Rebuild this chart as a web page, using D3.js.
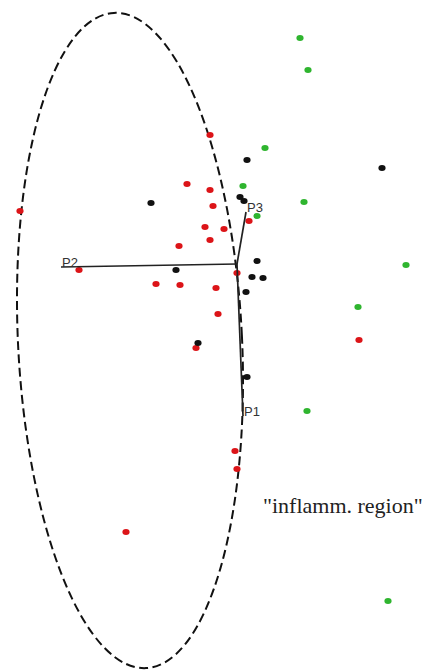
<!DOCTYPE html>
<html>
<head>
<meta charset="utf-8">
<script src="https://cdn.jsdelivr.net/npm/d3@7/dist/d3.min.js"></script>
<style>
  html, body { margin: 0; padding: 0; background: #fff; }
  svg { display: block; }
</style>
</head>
<body>
<svg id="chart" width="430" height="672"></svg>
<script>
// Sample scores on the first two components, grouped by class
const redScores = [
  [-0.27, 1.29], [-0.50, 0.80], [-0.27, 0.74], [-0.24, 0.58], [-2.17, 0.53],
  [0.12, 0.43], [-0.32, 0.37], [-0.13, 0.35], [-0.27, 0.24], [-0.58, 0.18],
  [-1.58, -0.06], [0.00, -0.09], [-0.81, -0.20], [-0.57, -0.21], [-0.21, -0.24],
  [-0.19, -0.50], [-0.41, -0.84], [1.22, -0.76], [-0.02, -1.87], [0.00, -2.05],
  [-1.11, -2.68]
];
const greenScores = [
  [0.63, 2.26], [0.71, 1.94], [0.28, 1.16], [0.06, 0.78], [0.67, 0.62],
  [0.20, 0.48], [1.69, -0.01], [1.21, -0.43], [0.70, -1.47], [1.51, -3.37]
];
const blackScores = [
  [0.10, 1.04], [1.45, 0.96], [-0.86, 0.61], [0.03, 0.67], [0.07, 0.63],
  [0.20, 0.03], [-0.61, -0.06], [0.15, -0.13], [0.26, -0.14], [0.09, -0.28],
  [-0.39, -0.79], [0.10, -1.13]
];

// Variable loadings
const loadingNames = ["P1", "P2", "P3"];
const loadingX = [0.06, -1.76, 0.09];
const loadingY = [-1.52, -0.03, 0.52];

// Region ellipse: centre, semi-axes and tilt (degrees)
const regionCentre = [-1.07, -0.765];
const regionAxes = [1.12, 3.28];
const regionTilt = -2.8;
const regionLabel = "\"inflamm. region\"";
const regionLabelPos = [0.26, -2.49];

const width = 430, height = 672;
const svg = d3.select("#chart");

const x = d3.scaleLinear().domain([-2.37, 1.93]).range([0, width]);
const y = d3.scaleLinear().domain([2.64, -4.08]).range([0, height]);

// dashed ellipse around the region
svg.append("ellipse")
  .attr("cx", 0).attr("cy", 0)
  .attr("rx", x(regionAxes[0]) - x(0))
  .attr("ry", y(0) - y(regionAxes[1]))
  .attr("transform", `translate(${x(regionCentre[0])},${y(regionCentre[1])}) rotate(${regionTilt})`)
  .attr("fill", "none")
  .attr("stroke", "#111")
  .attr("stroke-width", 2)
  .attr("stroke-dasharray", "9,4.5");

// points
function drawPoints(data, colour) {
  svg.append("g")
    .selectAll("ellipse")
    .data(data)
    .join("ellipse")
    .attr("cx", d => x(d[0]))
    .attr("cy", d => y(d[1]))
    .attr("rx", 3.6)
    .attr("ry", 3)
    .attr("fill", colour);
}
drawPoints(redScores, "#dc1418");
drawPoints(greenScores, "#2fb52f");
drawPoints(blackScores, "#111");

// loading vectors
const loadings = loadingNames.map((n, i) => ({ name: n, x: loadingX[i], y: loadingY[i] }));
const vec = svg.append("g");
vec.selectAll("line")
  .data(loadings)
  .join("line")
  .attr("x1", x(0)).attr("y1", y(0))
  .attr("x2", d => x(d.x)).attr("y2", d => y(d.y))
  .attr("stroke", "#222")
  .attr("stroke-width", 1.7);
vec.selectAll("text")
  .data(loadings)
  .join("text")
  .attr("x", d => x(d.x) + 1)
  .attr("y", d => y(d.y))
  .attr("font-family", "Liberation Sans, Arial, sans-serif")
  .attr("font-size", 13)
  .attr("fill", "#333")
  .text(d => d.name);

// region label
svg.append("text")
  .attr("x", x(regionLabelPos[0]))
  .attr("y", y(regionLabelPos[1]))
  .attr("font-family", "Liberation Serif, Times New Roman, serif")
  .attr("font-size", 22)
  .attr("fill", "#222")
  .text(regionLabel);
</script>
</body>
</html>
